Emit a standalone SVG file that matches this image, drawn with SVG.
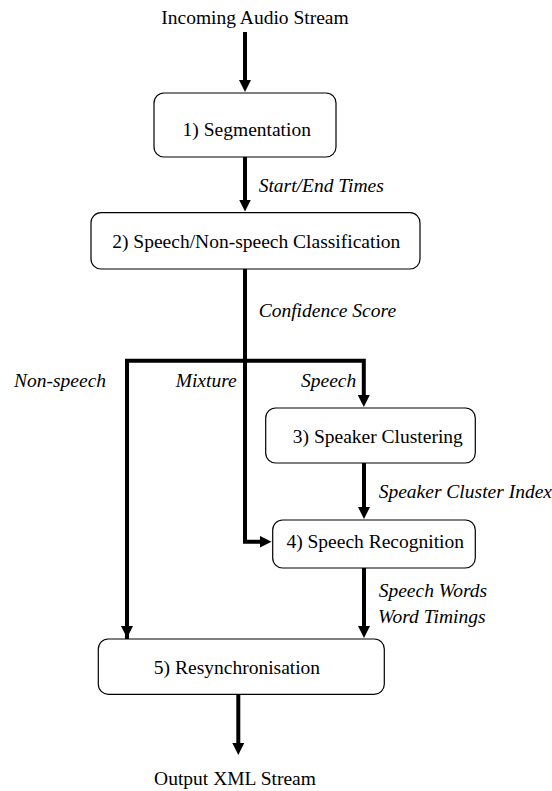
<svg xmlns="http://www.w3.org/2000/svg" width="552" height="791" viewBox="0 0 552 791">
<style>
.box{fill:#fff;stroke:#000;stroke-width:1.2}
text{font-family:'Liberation Serif','DejaVu Serif',serif;font-size:19.5px;fill:#000}
.c{text-anchor:middle}
.i{font-style:italic}
.conn{fill:none;stroke:#000;stroke-width:4;stroke-linejoin:miter;marker-end:url(#ah)}
</style>
<defs>
<marker id="ah" markerUnits="userSpaceOnUse" markerWidth="13" markerHeight="12" refX="1" refY="6" orient="auto">
<path d="M0,0 L12,6 L0,12 z" fill="#000"/>
</marker>
</defs>
<rect width="552" height="791" fill="#fff"/>
<g id="connectors">
<path class="conn" d="M245,32 V81"/>
<path class="conn" d="M245,157 V200.5"/>
<path class="conn" d="M245,269 V541.7 H260.5"/>
<path class="conn" d="M127,639 V360.7 H363.8 V396"/>
<path class="conn" d="M127,360.7 V627"/>
<path class="conn" d="M364,463 V508"/>
<path class="conn" d="M364,568 V627"/>
<path class="conn" d="M238.3,694.3 V744"/>
</g>
<g id="labels">
<text class="c" x="255" y="24" font-family="Liberation Serif, serif">Incoming Audio Stream</text>
<text class="i" x="258.7" y="191.7">Start/End Times</text>
<text class="i" x="258.7" y="317">Confidence Score</text>
<text class="i" x="14" y="387">Non-speech</text>
<text class="i" x="175.7" y="387">Mixture</text>
<text class="i" x="301" y="387">Speech</text>
<text class="i" x="378.7" y="497.7">Speaker Cluster Index</text>
<text class="i" x="378.7" y="596.5">Speech Words</text>
<text class="i" x="378" y="623.3">Word Timings</text>
<text class="c" x="235" y="785">Output XML Stream</text>
</g>
<g id="n1">
<rect class="box" x="154" y="93" width="182" height="64" rx="10"/>
<text class="c" x="246.8" y="136">1) Segmentation</text>
</g>
<g id="n2">
<rect class="box" x="91" y="212.7" width="329" height="56.3" rx="10"/>
<text class="c" x="256.3" y="248">2) Speech/Non-speech Classification</text>
</g>
<g id="n3">
<rect class="box" x="265.7" y="408" width="209.6" height="55" rx="10"/>
<text class="c" x="377.8" y="443">3) Speaker Clustering</text>
</g>
<g id="n4">
<rect class="box" x="272.7" y="520" width="202.6" height="48" rx="10"/>
<text class="c" x="375.2" y="547.7">4) Speech Recognition</text>
</g>
<g id="n5">
<rect class="box" x="98.3" y="639" width="286" height="55.3" rx="10"/>
<text class="c" x="237" y="674">5) Resynchronisation</text>
</g>
</svg>
